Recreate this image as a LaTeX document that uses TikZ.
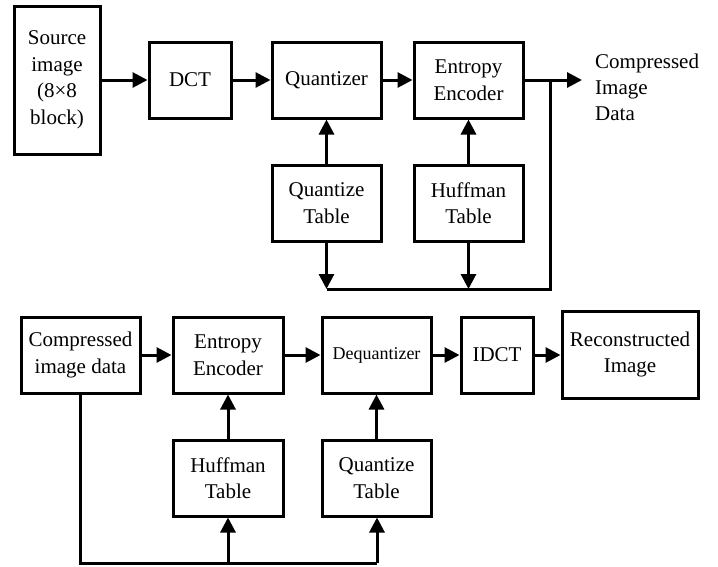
\documentclass[tikz,border=0pt]{standalone}
\usepackage{fontspec}
\setmainfont{Liberation Serif}
\usetikzlibrary{arrows.meta}
\begin{document}
\begin{tikzpicture}[x=1pt,y=-1pt,
  blk/.style={draw,line width=3pt,align=center,inner sep=0pt,
    font=\fontsize{21}{26.5}\selectfont},
  conn/.style={line width=3pt},
  arr/.style={conn,-{Triangle[length=15pt,width=15pt]}}]
\useasboundingbox (0,0) rectangle (718,566);
% top row
\node[blk,minimum width=86pt,minimum height=148pt] (src) at (57,80) {Source\\image\\(8×8\\block)};
\node[blk,minimum width=82pt,minimum height=76pt] (dct) at (190,80) {DCT};
\node[blk,minimum width=109pt,minimum height=76pt] (quant) at (326.5,80) {Quantizer};
\node[blk,minimum width=109pt,minimum height=76pt] (ent) at (468.5,80) {Entropy\\Encoder};
\node[blk,minimum width=109pt,minimum height=76pt] (qt) at (326.5,203) {Quantize\\Table};
\node[blk,minimum width=109pt,minimum height=76pt] (ht) at (468.5,203) {Huffman\\Table};
\node[anchor=west,align=left,inner sep=0pt,font=\fontsize{21}{26}\selectfont] (outtxt) at (595,87) {Compressed\\Image\\Data};
\coordinate (out) at (582,80);
\coordinate (j1) at (550,80);
\coordinate (c1) at (550,289);
\coordinate (c2) at (327,289);
\draw[arr] (src) -- (dct);
\draw[arr] (dct) -- (quant);
\draw[arr] (quant) -- (ent);
\draw[arr] (ent) -- (out);
\draw[conn] (j1) -- (c1) -- (c2);
\draw[arr] (qt) -- (quant);
\draw[arr] (ht) -- (ent);
\draw[arr] (qt.south) -- (qt.south |- c2);
\draw[arr] (ht.south) -- (ht.south |- c2);
% bottom row
\node[blk,minimum width=119pt,minimum height=76pt] (cid) at (80.5,355) {Compressed\\image data};
\node[blk,minimum width=110pt,minimum height=76pt] (ent2) at (228,355) {Entropy\\Encoder};
\node[blk,minimum width=109pt,minimum height=76pt,font=\fontsize{18}{22}\selectfont] (deq) at (376.5,355) {Dequantizer};
\node[blk,minimum width=72pt,minimum height=76pt] (idct) at (497,355) {IDCT};
\node[blk,minimum width=136pt,minimum height=87pt] (rec) at (630,354.5) {Reconstructed\\Image};
\node[blk,minimum width=110pt,minimum height=76pt] (ht2) at (228,478) {Huffman\\Table};
\node[blk,minimum width=109pt,minimum height=76pt] (qt2) at (376.5,478) {Quantize\\Table};
\coordinate (b1) at (80,563);
\coordinate (b2) at (377,563);
\draw[arr] (cid) -- (ent2);
\draw[arr] (ent2) -- (deq);
\draw[arr] (deq) -- (idct);
\draw[arr] (idct) -- (rec.west |- idct);
\draw[conn] (cid.south -| b1) -- (b1) -- (b2);
\draw[arr] (ht2.south |- b1) -- (ht2.south);
\draw[arr] (b2) -- (b2 |- qt2.south);
\draw[arr] (ht2) -- (ent2);
\draw[arr] (qt2) -- (deq);
\end{tikzpicture}
\end{document}
